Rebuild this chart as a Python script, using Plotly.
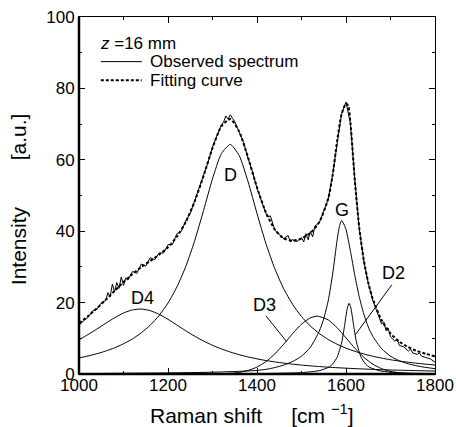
import plotly.graph_objects as go

# ---------------- data ----------------
grid20 = list(range(1000, 1801, 20))

d4_y = [9.61, 11.02, 12.57, 14.20, 15.76, 17.09, 17.95, 18.19, 17.75, 16.73,
        15.31, 13.71, 12.10, 10.58, 9.23, 8.04, 7.02, 6.15, 5.41, 4.78,
        4.24, 3.78, 3.39, 3.05, 2.76, 2.50, 2.28, 2.09, 1.91, 1.76,
        1.63, 1.50, 1.40, 1.30, 1.21, 1.13, 1.06, 1.00, 0.94, 0.88, 0.83]

d_y = [4.50, 5.04, 5.67, 6.43, 7.34, 8.46, 9.82, 11.53, 13.67, 16.39,
       19.88, 24.38, 30.14, 37.35, 45.85, 54.68, 61.73, 64.29, 61.18, 53.83,
       44.96, 36.56, 29.50, 23.88, 19.49, 16.09, 13.43, 11.34, 9.67, 8.33,
       7.24, 6.35, 5.60, 4.98, 4.45, 4.00, 3.62, 3.28, 2.99, 2.74, 2.51]

d3_x = [1000, 1100, 1200, 1260, 1300, 1320, 1340, 1360, 1380, 1400, 1420, 1440,
        1460, 1480, 1500, 1520, 1536, 1560, 1580, 1600, 1620, 1640, 1660,
        1680, 1700, 1720, 1740, 1760, 1780, 1800]
d3_y = [0.0, 0.0, 0.0, 0.01, 0.03, 0.08, 0.20, 0.46, 0.99, 1.94, 3.46, 5.62,
        8.35, 11.30, 13.96, 15.73, 16.2, 15.16, 12.97, 10.13, 7.21, 4.68, 2.77,
        1.50, 0.74, 0.33, 0.14, 0.05, 0.02, 0.01]

g_x = [1000, 1100, 1200, 1300, 1350, 1400, 1420, 1440, 1460, 1480, 1500, 1520,
       1540, 1550, 1560, 1570, 1580, 1585, 1590, 1595, 1600, 1610, 1620, 1630,
       1640, 1650, 1660, 1680, 1700, 1720, 1740, 1760, 1780, 1800]
g_y = [0.1, 0.2, 0.3, 0.5, 0.7, 1.0, 1.3, 1.8, 2.5, 3.5, 5.0, 7.5,
       12.0, 15.5, 20.5, 28.0, 37.5, 41.2, 43.0, 42.0, 40.5, 34.4, 27.5, 21.5,
       16.8, 13.2, 10.6, 7.1, 5.0, 3.7, 2.85, 2.26, 1.83, 1.5]

d2_x = [1000, 1300, 1400, 1500, 1540, 1560, 1570, 1580, 1590, 1595, 1600, 1603,
        1607, 1611, 1614, 1619, 1624, 1634, 1644, 1654, 1674, 1700, 1750, 1800]
d2_y = [0.01, 0.05, 0.10, 0.38, 0.95, 1.83, 2.80, 4.67, 8.67, 12.07, 16.26, 18.49,
        19.8, 18.49, 16.26, 12.07, 8.67, 4.67, 2.80, 1.83, 0.95, 0.50, 0.22, 0.12]

fit_x = [1000, 1020, 1040, 1060, 1080, 1100, 1120, 1140, 1160, 1180, 1200, 1220,
         1240, 1260, 1280, 1300, 1320, 1340, 1360, 1380, 1400, 1420, 1440, 1460,
         1480, 1500, 1520, 1540, 1560, 1570, 1580, 1590, 1600, 1605, 1610, 1620,
         1630, 1640, 1650, 1660, 1680, 1700, 1720, 1740, 1760, 1780, 1800]
fit_y = [14.22, 16.2, 18.37, 20.78, 23.28, 25.75, 27.99, 29.96, 31.68, 33.40, 35.49, 38.44,
         42.62, 48.35, 55.54, 63.30, 69.43, 71.40, 67.92, 60.58, 52.24, 45.22, 40.47, 37.99,
         37.33, 37.93, 39.51, 42.55, 49.07, 55.7, 65.23, 72.74, 75.76, 75.16, 70.4, 53.87,
         40.7, 31.87, 25.63, 21.12, 15.06, 11.37, 9.05, 7.52, 6.43, 5.62, 4.97]

obs_x = [1000, 1010, 1020, 1030, 1040, 1050, 1060, 1065, 1070, 1075, 1080, 1085,
         1090, 1095, 1100, 1105, 1110, 1120, 1130, 1140, 1150, 1160, 1170, 1180,
         1190, 1200, 1210, 1220, 1230, 1240, 1250, 1260, 1270, 1280, 1290, 1300,
         1310, 1320, 1325, 1330, 1335, 1340, 1345, 1350, 1360, 1370, 1380, 1390,
         1400, 1410, 1420, 1425, 1430, 1440, 1450, 1460, 1470, 1475, 1480, 1490,
         1500, 1505, 1510, 1515, 1520, 1525, 1530, 1540, 1550, 1560, 1570, 1580,
         1590, 1600, 1610, 1620, 1630, 1640, 1650, 1660, 1670, 1680, 1685, 1690,
         1695, 1700, 1710, 1715, 1720, 1730, 1740, 1745, 1750, 1760, 1765, 1770,
         1780, 1790, 1800]
obs_y = [13.6, 14.9, 15.8, 17.6, 18.1, 19.9, 20.6, 22.8, 21.6, 25.2, 23.0, 25.6,
         24.0, 27.2, 24.8, 26.9, 26.3, 28.7, 28.2, 30.8, 30.2, 32.6, 32.0, 33.9,
         33.9, 36.2, 36.3, 39.3, 40.0, 42.9, 45.0, 48.6, 51.7, 55.8, 59.3, 63.6,
         66.6, 69.8, 70.6, 72.3, 71.4, 72.6, 71.6, 70.7, 67.7, 64.8, 60.4, 56.6,
         52.0, 48.7, 45.0, 44.0, 44.3, 40.3, 39.2, 37.9, 38.8, 37.0, 37.6, 37.1,
         38.2, 37.0, 39.3, 37.6, 39.9, 38.4, 41.4, 42.4, 45.6, 49.0, 55.9, 65.0,
         72.9, 76.2, 70.1, 54.2, 40.5, 31.6, 25.4, 20.7, 17.4, 14.0, 14.6, 12.1,
         12.8, 10.4, 9.2, 9.7, 8.0, 7.6, 6.4, 7.0, 5.9, 5.5, 5.9, 5.0,
         4.6, 4.2, 3.3]

assert len(obs_x) == len(obs_y)
assert len(fit_x) == len(fit_y)
assert len(grid20) == len(d4_y) == len(d_y)
assert len(d3_x) == len(d3_y) and len(g_x) == len(g_y) and len(d2_x) == len(d2_y)

peak_labels = ["D", "G", "D4", "D3", "D2"]
label_x = [1341, 1590, 1142, 1417, 1706]
label_y = [55.8, 46.0, 21.2, 19.3, 28.2]

x_ticks = [1000, 1200, 1400, 1600, 1800]
y_ticks = [0, 20, 40, 60, 80, 100]

# ---------------- figure ----------------
FONT = "Arial, Liberation Sans, Helvetica, sans-serif"
fig = go.Figure()

comp_line = dict(color="black", width=1, shape="spline", smoothing=0.6)
for xs, ys in [(grid20, d4_y), (grid20, d_y), (d3_x, d3_y), (g_x, g_y), (d2_x, d2_y)]:
    fig.add_trace(go.Scatter(x=xs, y=ys, mode="lines", line=comp_line,
                             showlegend=False, hoverinfo="skip"))

fig.add_trace(go.Scatter(x=obs_x, y=obs_y, mode="lines",
                         line=dict(color="black", width=1), showlegend=False))
fig.add_trace(go.Scatter(x=fit_x, y=fit_y, mode="lines",
                         line=dict(color="black", width=2, dash="3px,2px",
                                   shape="spline", smoothing=0.6),
                         showlegend=False))

annotations = []
for t, xx, yy in zip(peak_labels, label_x, label_y):
    annotations.append(dict(x=xx, y=yy, text=t, showarrow=False,
                            font=dict(size=18, family=FONT, color="black")))

# legend (drawn by hand)
annotations += [
    dict(x=1042, y=92.6, text="<i>z</i>\u00a0=16 mm", showarrow=False, xanchor="left",
         font=dict(size=17, family=FONT, color="black")),
    dict(x=1156, y=87.5, text="Observed spectrum", showarrow=False, xanchor="left",
         font=dict(size=17, family=FONT, color="black")),
    dict(x=1156, y=82.2, text="Fitting curve", showarrow=False, xanchor="left",
         font=dict(size=17, family=FONT, color="black")),
    # axis titles
    dict(xref="paper", yref="paper", x=0.485, y=-0.112,
         text="Raman shift\u00a0\u00a0\u00a0\u00a0\u00a0[cm\u00a0<sup>\u22121</sup>]",
         showarrow=False, xanchor="center", yanchor="middle",
         font=dict(size=21, family=FONT, color="black")),
    dict(xref="paper", yref="paper", x=-0.171, y=0.49,
         text="Intensity\u00a0\u00a0\u00a0\u00a0\u00a0\u00a0\u00a0\u00a0[a.u.]",
         showarrow=False, textangle=-90, xanchor="center", yanchor="middle",
         font=dict(size=21, family=FONT, color="black")),
]

shapes = [
    # legend samples
    dict(type="line", x0=1049, x1=1141, y0=87.5, y1=87.5,
         line=dict(color="black", width=1)),
    dict(type="line", x0=1049, x1=1141, y0=82.3, y1=82.3,
         line=dict(color="black", width=2, dash="3px,2px")),
    # pointer lines
    dict(type="line", x0=1420, y0=16.3, x1=1467, y1=9.0,
         line=dict(color="black", width=1)),
    dict(type="line", x0=1703, y0=25.0, x1=1621, y1=11.0,
         line=dict(color="black", width=1)),
    # thick left / bottom frame
    dict(type="line", xref="paper", yref="paper", x0=0, x1=1, y0=0, y1=0,
         line=dict(color="black", width=2.5)),
    dict(type="line", xref="paper", yref="paper", x0=0, x1=0, y0=0, y1=1,
         line=dict(color="black", width=2.5)),
]

fig.update_layout(
    width=456, height=427,
    margin=dict(l=79, r=21, t=17, b=53, autoexpand=False),
    paper_bgcolor="white", plot_bgcolor="white",
    font=dict(family=FONT, size=17, color="black"),
    annotations=annotations, shapes=shapes,
    xaxis=dict(range=[1000, 1800], tickvals=x_ticks, ticks="inside", ticklen=6,
               tickcolor="black", showline=True, linecolor="black", linewidth=1,
               mirror="ticks", showgrid=False, zeroline=False, ticklabelstandoff=-4,
               ticklabeloverflow="allow", automargin=False,
               minor=dict(dtick=100, tick0=1000, ticks="inside", ticklen=3,
                          tickcolor="black", showgrid=False),
               tickfont=dict(size=17, family=FONT, color="black")),
    yaxis=dict(range=[0, 100], tickvals=y_ticks, ticks="inside", ticklen=6,
               tickcolor="black", showline=True, linecolor="black", linewidth=1,
               mirror="ticks", showgrid=False, zeroline=False,
               ticklabeloverflow="allow", automargin=False,
               minor=dict(dtick=10, tick0=0, ticks="inside", ticklen=3,
                          tickcolor="black", showgrid=False),
               tickfont=dict(size=17, family=FONT, color="black")),
)

# remove the default 8px page margin so the 456x427 figure fills the window exactly
fig.write_html("out.html",
               config={"displayModeBar": False, "staticPlot": True},
               post_script="document.body.style.margin='0';"
                           "document.body.style.overflow='hidden';")
